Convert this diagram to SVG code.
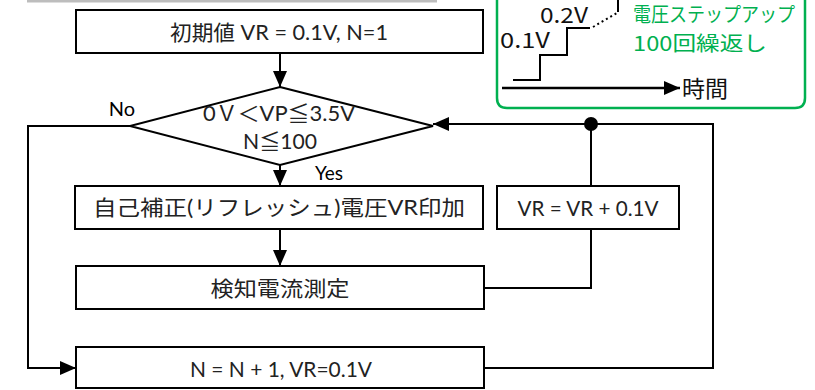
<svg xmlns="http://www.w3.org/2000/svg" width="815" height="390" viewBox="0 0 815 390">
<style>
.box{fill:#fff;stroke:#000;stroke-width:2}
.ln{fill:none;stroke:#000;stroke-width:2}
.t{font-family:Lato,"Noto Sans","Noto Sans CJK JP",sans-serif;font-size:21px;fill:#222;text-anchor:middle}
.g{font-family:"Noto Sans CJK JP",sans-serif;font-size:20px;fill:#00B050}
.k{font-family:"Noto Sans CJK JP",sans-serif;fill:#111}
</style>
<defs>
<marker id="ah" viewBox="0 0 16 14" refX="16" refY="7" markerWidth="16" markerHeight="14" markerUnits="userSpaceOnUse" orient="auto">
<path d="M0,0 L16,7 L0,14 Z" fill="#000"/>
</marker>
</defs>
<line x1="27" y1="1" x2="437" y2="1" stroke="#bdbdbd" stroke-width="3"/>
<g id="legend">
<path d="M497,-10 V98 Q497,108 507,108 H795 Q805,108 805,98 V-10" fill="#fff" stroke="#00B050" stroke-width="2.5"/>
<path class="ln" d="M513,80 H540 V55 H567 V28 H590"/>
<path d="M593,27 L617,13" stroke="#000" stroke-width="2" stroke-dasharray="2,3" fill="none"/>
<line x1="618" y1="0" x2="618" y2="12" stroke="#000" stroke-width="2"/>
<line x1="502" y1="88" x2="680" y2="88" stroke="#000" stroke-width="2.5" marker-end="url(#ah)"/>
<text class="k" x="500" y="48" font-size="21" textLength="50" lengthAdjust="spacingAndGlyphs">0.1V</text>
<text class="k" x="540" y="23" font-size="21" textLength="48" lengthAdjust="spacingAndGlyphs">0.2V</text>
<text class="k" x="682" y="97" font-size="23" textLength="46" lengthAdjust="spacingAndGlyphs">時間</text>
<text class="g" x="633" y="22" textLength="162" lengthAdjust="spacingAndGlyphs">電圧ステップアップ</text>
<text class="g" x="633" y="51" font-size="22" textLength="134" lengthAdjust="spacingAndGlyphs">100回繰返し</text>
</g>
<g id="connectors">
<line class="ln" x1="280" y1="53" x2="280" y2="87" marker-end="url(#ah)"/>
<line class="ln" x1="280" y1="165" x2="280" y2="186" marker-end="url(#ah)"/>
<line class="ln" x1="280" y1="229" x2="280" y2="266" marker-end="url(#ah)"/>
<path class="ln" d="M130,126 H28 V368 H76" marker-end="url(#ah)"/>
<path class="ln" d="M484,368 H713 V124 H433" stroke-width="1.8" marker-end="url(#ah)"/>
<path class="ln" d="M484,288 H591 V229"/>
<line class="ln" x1="591" y1="186" x2="591" y2="124"/>
<circle cx="591" cy="124" r="7" fill="#000"/>
<text class="t" x="122" y="116" style="fill:#000;font-size:20px">No</text>
<text class="t" x="329" y="180" style="fill:#000;font-size:19px">Yes</text>
</g>
<g id="init">
<rect class="box" x="76" y="10" width="407" height="43"/>
<text class="t" x="279" y="40" textLength="218" lengthAdjust="spacingAndGlyphs">初期値 VR = 0.1V, N=1</text>
</g>
<g id="decision">
<path class="box" d="M280,87 L433,126 L280,165 L130,126 Z"/>
<text class="t" x="279" y="121" textLength="152" lengthAdjust="spacingAndGlyphs">0Ｖ＜VP≦3.5V</text>
<text class="t" x="280" y="149" textLength="74" lengthAdjust="spacingAndGlyphs">N≦100</text>
</g>
<g id="apply">
<rect class="box" x="75" y="186" width="408" height="43"/>
<text class="t" x="279" y="215" textLength="372" lengthAdjust="spacingAndGlyphs">自己補正(リフレッシュ)電圧VR印加</text>
</g>
<g id="increment">
<rect class="box" x="497" y="186" width="182" height="43"/>
<text class="t" x="588" y="216" textLength="141" lengthAdjust="spacingAndGlyphs">VR = VR + 0.1V</text>
</g>
<g id="measure">
<rect class="box" x="76" y="266" width="408" height="43"/>
<text class="t" x="280" y="296" textLength="139" lengthAdjust="spacingAndGlyphs">検知電流測定</text>
</g>
<g id="next">
<rect class="box" x="76" y="347" width="408" height="41"/>
<text class="t" x="281" y="377" textLength="182" lengthAdjust="spacingAndGlyphs">N = N + 1, VR=0.1V</text>
</g>
</svg>
